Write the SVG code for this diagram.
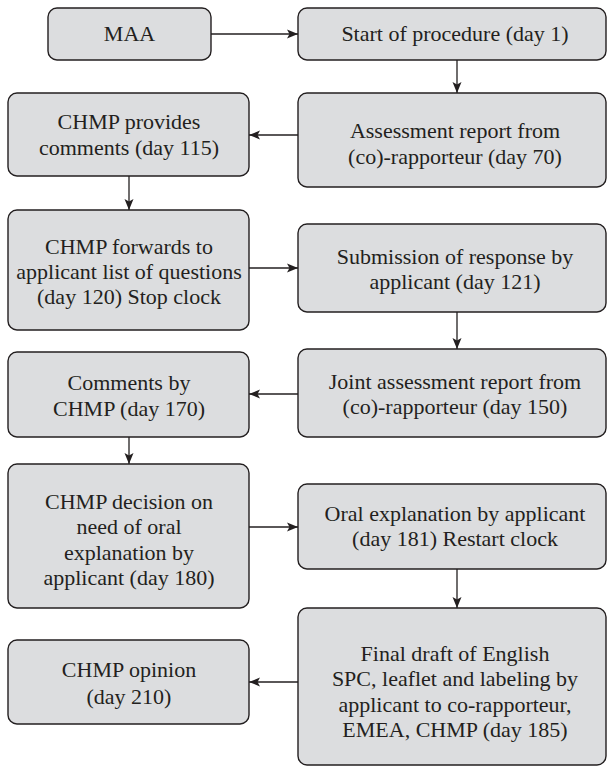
<svg xmlns="http://www.w3.org/2000/svg" width="607" height="766" viewBox="0 0 607 766">
  <style>
    .box { fill: #dcdddf; stroke: #231f20; stroke-width: 1.4; }
    .lbl { font-family: 'Liberation Serif', Tinos, 'DejaVu Serif', 'Noto Serif', serif; font-size: 22px; fill: #231f20; text-anchor: middle; }
    .link { stroke: #231f20; stroke-width: 1.3; fill: none; marker-end: url(#head); }
  </style>
  <defs>
    <marker id="head" markerUnits="userSpaceOnUse" markerWidth="12" markerHeight="10" refX="11" refY="5" orient="auto">
      <path d="M0,0.5 L11,5 L0,9.5 L2.5,5 Z" fill="#231f20"/>
    </marker>
  </defs>
  <rect width="607" height="766" fill="#ffffff"/>

  <!-- flow arrows between the steps -->
  <g id="connectors">
    <line class="link" x1="211" y1="34" x2="298" y2="34"/>
    <line class="link" x1="457" y1="60" x2="457" y2="93"/>
    <line class="link" x1="298" y1="135" x2="249" y2="135"/>
    <line class="link" x1="129" y1="176" x2="129" y2="210"/>
    <line class="link" x1="249" y1="268" x2="298" y2="268"/>
    <line class="link" x1="457" y1="312" x2="457" y2="349"/>
    <line class="link" x1="298" y1="394" x2="249" y2="394"/>
    <line class="link" x1="129" y1="437" x2="129" y2="464"/>
    <line class="link" x1="249" y1="527" x2="298" y2="527"/>
    <line class="link" x1="457" y1="569" x2="457" y2="608"/>
    <line class="link" x1="298" y1="682" x2="249" y2="682"/>
  </g>

  <g id="maa">
    <rect class="box" x="48" y="8" width="163" height="52" rx="9"/>
    <text class="lbl" x="129.5" y="41">MAA</text>
  </g>
  <g id="start">
    <rect class="box" x="298" y="8" width="308" height="52" rx="9"/>
    <text class="lbl" x="455" y="41">Start of procedure (day 1)</text>
  </g>
  <g id="assessment">
    <rect class="box" x="298" y="93" width="308" height="94" rx="9"/>
    <text class="lbl" x="455" y="138">Assessment report from</text>
    <text class="lbl" x="455" y="164">(co)-rapporteur (day 70)</text>
  </g>
  <g id="chmp-comments">
    <rect class="box" x="8" y="93" width="241" height="83" rx="9"/>
    <text class="lbl" x="129" y="129">CHMP provides</text>
    <text class="lbl" x="129" y="155">comments (day 115)</text>
  </g>
  <g id="chmp-questions">
    <rect class="box" x="8" y="210" width="241" height="120" rx="9"/>
    <text class="lbl" x="129" y="254">CHMP forwards to</text>
    <text class="lbl" x="129" y="279">applicant list of questions</text>
    <text class="lbl" x="129" y="304">(day 120) Stop clock</text>
  </g>
  <g id="submission">
    <rect class="box" x="298" y="224" width="308" height="88" rx="9"/>
    <text class="lbl" x="455" y="264">Submission of response by</text>
    <text class="lbl" x="455" y="289">applicant (day 121)</text>
  </g>
  <g id="joint-assessment">
    <rect class="box" x="298" y="349" width="308" height="88" rx="9"/>
    <text class="lbl" x="455" y="389">Joint assessment report from</text>
    <text class="lbl" x="455" y="414">(co)-rapporteur (day 150)</text>
  </g>
  <g id="chmp-comments-170">
    <rect class="box" x="8" y="352" width="241" height="85" rx="9"/>
    <text class="lbl" x="129" y="390">Comments by</text>
    <text class="lbl" x="129" y="416">CHMP (day 170)</text>
  </g>
  <g id="chmp-decision">
    <rect class="box" x="8" y="464" width="241" height="144" rx="9"/>
    <text class="lbl" x="129" y="509">CHMP decision on</text>
    <text class="lbl" x="129" y="534">need of oral</text>
    <text class="lbl" x="129" y="560">explanation by</text>
    <text class="lbl" x="129" y="585">applicant (day 180)</text>
  </g>
  <g id="oral-explanation">
    <rect class="box" x="298" y="484" width="308" height="85" rx="9"/>
    <text class="lbl" x="455" y="521">Oral explanation by applicant</text>
    <text class="lbl" x="455" y="546">(day 181) Restart clock</text>
  </g>
  <g id="final-draft">
    <rect class="box" x="298" y="608" width="308" height="157" rx="9"/>
    <text class="lbl" x="455" y="661">Final draft of English</text>
    <text class="lbl" x="455" y="686">SPC, leaflet and labeling by</text>
    <text class="lbl" x="455" y="712">applicant to co-rapporteur,</text>
    <text class="lbl" x="455" y="737">EMEA, CHMP (day 185)</text>
  </g>
  <g id="chmp-opinion">
    <rect class="box" x="8" y="640" width="241" height="84" rx="9"/>
    <text class="lbl" x="129" y="677">CHMP opinion</text>
    <text class="lbl" x="129" y="704">(day 210)</text>
  </g>
</svg>
